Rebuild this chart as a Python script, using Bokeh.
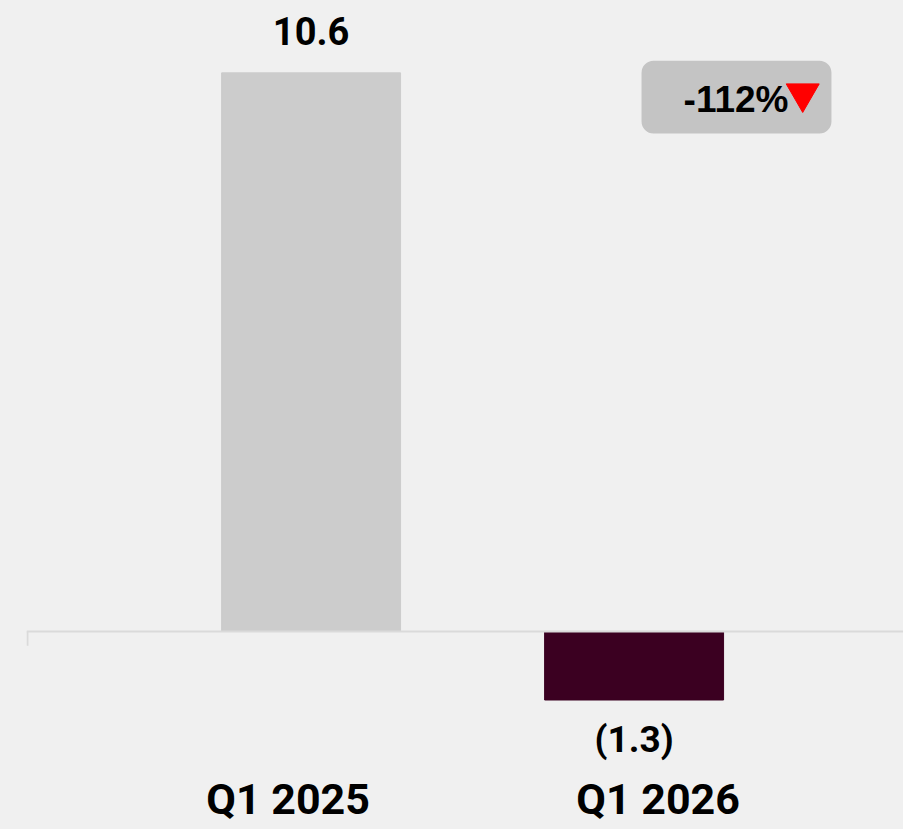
from bokeh.plotting import figure
from bokeh.models import ColumnDataSource, Span, BoxAnnotation
from bokeh.core.properties import value
from bokeh.embed import file_html
from bokeh.resources import INLINE

categories = ["Q1 2025", "Q1 2026"]
values = [10.6, -1.3]
bar_colors = ["#cccccc", "#3b0021"]

positions = [1, 2]
labels = [f"{v:.1f}" if v >= 0 else f"({abs(v):.1f})" for v in values]
change = (values[1] - values[0]) / values[0] * 100
change_text = f"{change:.0f}%"

BG = "#f0f0f0"
FONT = "Roboto"

p = figure(frame_width=877, frame_height=829, output_backend="svg", toolbar_location=None,
           x_range=(0.119, 2.834), y_range=(-3.757, 11.973),
           min_border_left=26, min_border_right=0, min_border_top=0, min_border_bottom=0,
           background_fill_color=BG, border_fill_color=BG, outline_line_color=None)

p.grid.visible = False
p.axis.visible = False

src = ColumnDataSource(dict(x=positions, top=values, color=bar_colors, label=labels))
p.vbar(x="x", top="top", bottom=0, width=0.554, color="color", source=src)

# baseline with a small tick at its left end
p.add_layout(Span(location=0, dimension="width", line_color="#dadada", line_width=2))
p.segment(x0=[0.122], y0=[0], x1=[0.122], y1=[-0.27], line_color="#dadada", line_width=2)

# value labels
pos_src = ColumnDataSource(dict(x=[x for x, v in zip(positions, values) if v >= 0],
                                y=[v for v in values if v >= 0],
                                t=[l for l, v in zip(labels, values) if v >= 0]))
neg_src = ColumnDataSource(dict(x=[x for x, v in zip(positions, values) if v < 0],
                                y=[v for v in values if v < 0],
                                t=[l for l, v in zip(labels, values) if v < 0]))
p.text(x="x", y="y", text="t", source=pos_src, text_align="center", text_baseline="alphabetic",
       y_offset=-42, text_font=value(FONT), text_font_style="bold", text_font_size="38px",
       text_color="#000000")
p.text(x="x", y="y", text="t", source=neg_src, text_align="center", text_baseline="alphabetic",
       y_offset=39, text_font=value(FONT), text_font_style="bold", text_font_size="37px",
       text_color="#000000")

# category labels (drawn below the chart, slightly offset outward)
cat_src = ColumnDataSource(dict(x=positions, t=categories, dx=[-23, 24]))
p.text(x="x", y=-3.49, text="t", x_offset="dx", source=cat_src, text_align="center",
       text_baseline="alphabetic", y_offset=-16, text_font=value(FONT), text_font_style="bold",
       text_font_size="43px", text_color="#000000")

# change badge
p.add_layout(BoxAnnotation(left=2.023, right=2.611, bottom=9.45, top=10.83,
                           fill_color="#c4c4c4", fill_alpha=1, line_color=None,
                           border_radius=12, level="underlay"))
p.text(x=[2.478], y=[9.85], text=[change_text], text_align="right", text_baseline="alphabetic",
       y_offset=-13, text_font=value("Liberation Sans"), text_font_style="bold",
       text_font_size="37px", text_color="#000000")
p.scatter(x=[2.522], y=[10.21], marker="inverted_triangle", size=33, color="#ff0000")

html = file_html(p, INLINE)
html = html.replace("<head>", "<head><style>html,body{background:#f0f0f0;margin:0;padding:0;overflow:hidden;}</style>", 1)
open("out.html", "w").write(html)
